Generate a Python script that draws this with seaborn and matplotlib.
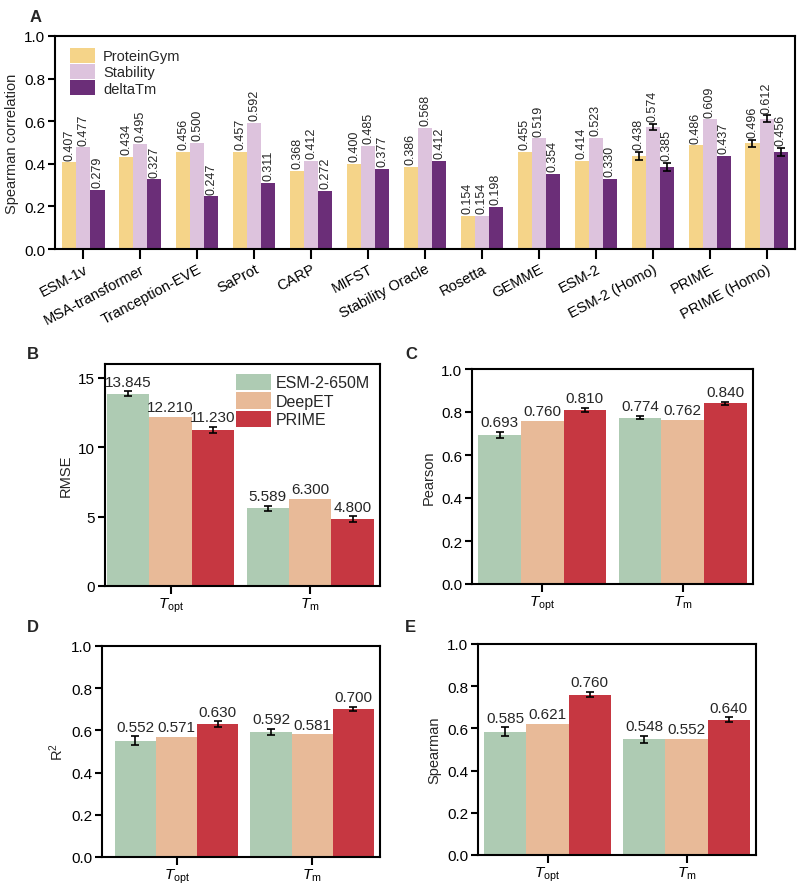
import matplotlib
matplotlib.use("Agg")
import matplotlib.pyplot as plt
import seaborn as sns
import pandas as pd
import numpy as np

# ---- data: panel A ----
methods = ["ESM-1v", "MSA-transformer", "Tranception-EVE", "SaProt", "CARP", "MIFST",
           "Stability Oracle", "Rosetta", "GEMME", "ESM-2", "ESM-2 (Homo)", "PRIME",
           "PRIME (Homo)"]
benchmarks = ["ProteinGym", "Stability", "deltaTm"]
proteingym = [0.407, 0.434, 0.456, 0.457, 0.368, 0.400, 0.386, 0.154, 0.455, 0.414, 0.438, 0.486, 0.496]
stability = [0.477, 0.495, 0.500, 0.592, 0.412, 0.485, 0.568, 0.154, 0.519, 0.523, 0.574, 0.609, 0.612]
delta_tm = [0.279, 0.327, 0.247, 0.311, 0.272, 0.377, 0.412, 0.198, 0.354, 0.330, 0.385, 0.437, 0.456]
proteingym_err = [0, 0, 0, 0, 0, 0, 0, 0, 0, 0, 0.018, 0, 0.018]
stability_err = [0, 0, 0, 0, 0, 0, 0, 0, 0, 0, 0.015, 0, 0.015]
delta_tm_err = [0, 0, 0, 0, 0, 0, 0, 0, 0, 0, 0.018, 0, 0.018]

# ---- data: panels B-E ----
targets = [r"$T_{\rm opt}$", r"$T_{\rm m}$"]
models = ["ESM-2-650M", "DeepET", "PRIME"]
rmse = {"ESM-2-650M": [13.845, 5.589], "DeepET": [12.210, 6.300], "PRIME": [11.230, 4.800]}
rmse_err = {"ESM-2-650M": [0.18, 0.18], "DeepET": [0, 0], "PRIME": [0.22, 0.22]}
pearson = {"ESM-2-650M": [0.693, 0.774], "DeepET": [0.760, 0.762], "PRIME": [0.810, 0.840]}
pearson_err = {"ESM-2-650M": [0.013, 0.007], "DeepET": [0, 0], "PRIME": [0.010, 0.007]}
r2 = {"ESM-2-650M": [0.552, 0.592], "DeepET": [0.571, 0.581], "PRIME": [0.630, 0.700]}
r2_err = {"ESM-2-650M": [0.020, 0.015], "DeepET": [0, 0], "PRIME": [0.013, 0.010]}
spearman = {"ESM-2-650M": [0.585, 0.548], "DeepET": [0.621, 0.552], "PRIME": [0.760, 0.640]}
spearman_err = {"ESM-2-650M": [0.020, 0.018], "DeepET": [0, 0], "PRIME": [0.012, 0.012]}

colors_a = ["#F5D489", "#DDC3DD", "#6B2E78"]
colors_b = ["#AECBB3", "#E8BA98", "#C63741"]

sns.set_style("ticks")
plt.rcParams["font.family"] = ["Liberation Sans", "DejaVu Sans"]
plt.rcParams["mathtext.fontset"] = "custom"
plt.rcParams["mathtext.rm"] = "Liberation Sans"
plt.rcParams["mathtext.it"] = "Liberation Sans:italic"
plt.rcParams["axes.linewidth"] = 1.5
plt.rcParams["xtick.major.width"] = 1.5
plt.rcParams["ytick.major.width"] = 1.5
plt.rcParams["font.size"] = 10

W, H = 797, 887
fig = plt.figure(figsize=(W / 100, H / 100), dpi=100)


def px_axes(left, top, right, bottom):
    return fig.add_axes([left / W, 1 - bottom / H, (right - left) / W, (bottom - top) / H])


def style(ax):
    for s in ax.spines.values():
        s.set_visible(True)
        s.set_color("black")
    ax.tick_params(axis="both", direction="out", colors="black", labelsize=11)
    ax.tick_params(axis="y", length=5, pad=2)
    ax.tick_params(axis="x", length=6, pad=1)


# ---- panel A ----
axA = px_axes(55, 37, 795, 250)
dfA = pd.DataFrame({
    "method": methods * 3,
    "benchmark": sum([[b] * len(methods) for b in benchmarks], []),
    "value": proteingym + stability + delta_tm,
    "err": proteingym_err + stability_err + delta_tm_err,
})
sns.barplot(data=dfA, x="method", y="value", hue="benchmark", palette=colors_a,
            width=0.74, saturation=1, errorbar=None, linewidth=0, ax=axA)
for cont, b in zip(axA.containers, benchmarks):
    sub = dfA[dfA["benchmark"] == b]
    for patch, v, e in zip(cont.patches, sub["value"], sub["err"]):
        xc = patch.get_x() + patch.get_width() / 2
        if e > 0:
            axA.errorbar(xc, v, yerr=e, color="black", capsize=3, elinewidth=1.2, capthick=1.2)
        axA.annotate(f"{v:.3f}", (xc, v + e), xytext=(0, 2), textcoords="offset points",
                     rotation=90, ha="center", va="bottom", fontsize=9)
axA.set_ylim(0, 1.0)
axA.set_xlim(-0.5, 12.5)
axA.set_yticks(np.arange(0, 1.01, 0.2))
axA.set_ylabel("Spearman correlation", fontsize=10.5, labelpad=4)
axA.set_xlabel("")
style(axA)
axA.tick_params(axis="x", length=7, pad=2)
plt.setp(axA.get_xticklabels(), rotation=28, ha="right", rotation_mode="anchor", fontsize=10.5)
axA.legend(loc="upper left", frameon=False, fontsize=10.5, handlelength=1.75, handleheight=1.2,
           labelspacing=0.05, handletextpad=0.55, borderaxespad=0.2, bbox_to_anchor=(0.008, 0.985))
fig.text(30 / W, 1 - 18 / H, "A", fontsize=12, fontweight="bold", ha="left", va="center")


# ---- panels B-E ----
def metric_panel(ax, vals, errs, ylabel, ylim, yticks, fmt, xlim, legend=False):
    df = pd.DataFrame({
        "target": targets * 3,
        "model": sum([[m] * 2 for m in models], []),
        "value": sum([vals[m] for m in models], []),
        "err": sum([errs[m] for m in models], []),
    })
    sns.barplot(data=df, x="target", y="value", hue="model", palette=colors_b,
                width=0.91, saturation=1, errorbar=None, linewidth=0, ax=ax, legend=legend)
    for cont, m in zip(ax.containers, models):
        sub = df[df["model"] == m]
        for patch, v, e in zip(cont.patches, sub["value"], sub["err"]):
            xc = patch.get_x() + patch.get_width() / 2
            if e > 0:
                ax.errorbar(xc, v, yerr=e, color="black", capsize=3, elinewidth=1.2, capthick=1.2)
            ax.annotate(fmt.format(v), (xc, v + e), xytext=(0, 2), textcoords="offset points",
                        ha="center", va="bottom", fontsize=11)
    ax.set_ylim(*ylim)
    ax.set_yticks(yticks)
    ax.set_xlim(*xlim)
    ax.set_ylabel(ylabel, fontsize=10.5, labelpad=4)
    ax.set_xlabel("")
    style(ax)
    plt.setp(ax.get_xticklabels(), fontsize=11)
    if legend:
        ax.legend(loc="upper right", frameon=False, fontsize=11.5, handlelength=2.2,
                  handleheight=1.25, labelspacing=0.1, handletextpad=0.3, borderaxespad=0.2)


axB = px_axes(105, 365, 380, 587)
metric_panel(axB, rmse, rmse_err, "RMSE", (0, 16), [0, 5, 10, 15], "{:.3f}", (-0.47, 1.5), legend=True)
axC = px_axes(472, 370, 753, 585)
metric_panel(axC, pearson, pearson_err, "Pearson", (0, 1.0), np.arange(0, 1.01, 0.2), "{:.3f}", (-0.5, 1.5))
axD = px_axes(102, 647, 380, 858)
metric_panel(axD, r2, r2_err, r"R$^{2}$", (0, 1.0), np.arange(0, 1.01, 0.2), "{:.3f}", (-0.55, 1.5))
axE = px_axes(478, 645, 756, 856)
metric_panel(axE, spearman, spearman_err, "Spearman", (0, 1.0), np.arange(0, 1.01, 0.2), "{:.3f}", (-0.5, 1.5))

for lbl, x, y in [("B", 27, 355), ("C", 405, 355), ("D", 27, 628), ("E", 405, 628)]:
    fig.text(x / W, 1 - y / H, lbl, fontsize=12, fontweight="bold", ha="left", va="center")

fig.savefig("out.png", dpi=100)
